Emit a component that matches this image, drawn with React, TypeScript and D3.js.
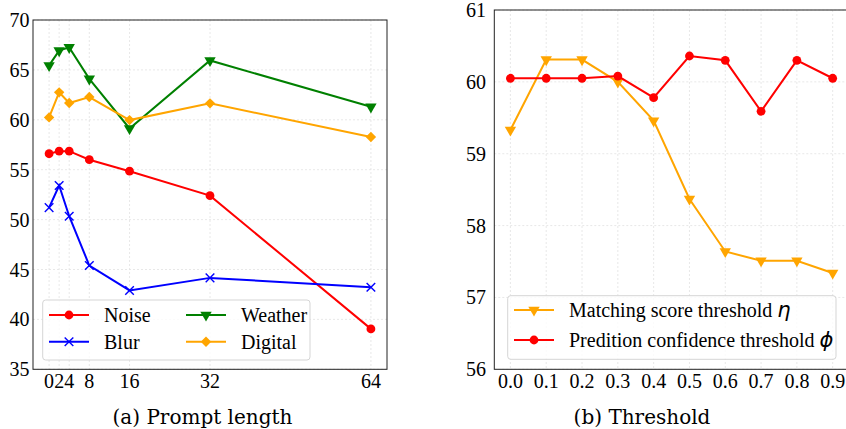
import React from 'react';
import * as d3 from 'd3';

// (a) prompt length
const promptLengths = [0, 2, 4, 8, 16, 32, 64];
const noise = [56.6, 56.86, 56.86, 56.0, 54.85, 52.4, 39.05];
const blur = [51.2, 53.42, 50.34, 45.4, 42.9, 44.16, 43.22];
const weather = [65.45, 66.93, 67.26, 64.1, 59.13, 65.95, 61.3];
const digital = [60.24, 62.75, 61.68, 62.28, 59.97, 61.65, 58.27];
const leftYTicks = [35, 40, 45, 50, 55, 60, 65, 70];

// (b) threshold
const thresholds = [0.0, 0.1, 0.2, 0.3, 0.4, 0.5, 0.6, 0.7, 0.8, 0.9];
const matching = [59.33, 60.31, 60.31, 60.0, 59.46, 58.37, 57.64, 57.51, 57.51, 57.34];
const confidence = [60.05, 60.05, 60.05, 60.08, 59.78, 60.36, 60.3, 59.59, 60.3, 60.05];
const rightYTicks = [56, 57, 58, 59, 60, 61];

const SERIF = '"Liberation Serif", "Times New Roman", serif';
const GRID = '#e2e2e2';

type MarkerKind = 'circle' | 'x' | 'tri' | 'diamond';

function Marker({ kind, x, y, color }: { kind: MarkerKind; x: number; y: number; color: string }) {
  if (kind === 'circle') return <circle cx={x} cy={y} r={4.4} fill={color} />;
  if (kind === 'x') {
    const s = 4.3;
    return (
      <g stroke={color} strokeWidth={1.4}>
        <line x1={x - s} y1={y - s} x2={x + s} y2={y + s} />
        <line x1={x - s} y1={y + s} x2={x + s} y2={y - s} />
      </g>
    );
  }
  if (kind === 'tri') {
    const p = d3.symbol().type(d3.symbolTriangle).size(56)();
    return <path d={p!} transform={`translate(${x},${y}) rotate(180)`} fill={color} />;
  }
  const p = d3.symbol().type(d3.symbolSquare).size(54)();
  return <path d={p!} transform={`translate(${x},${y}) rotate(45)`} fill={color} />;
}

function Series({ xs, ys, x, y, color, kind }: any) {
  const line = d3.line<number>().x((d, i) => x(xs[i])).y(d => y(d));
  return (
    <g>
      <path d={line(ys)!} fill="none" stroke={color} strokeWidth={2} />
      {ys.map((v: number, i: number) => (
        <Marker key={i} kind={kind} x={x(xs[i])} y={y(v)} color={color} />
      ))}
    </g>
  );
}

function LegendItem({ x, y, color, kind, children }: any) {
  return (
    <g>
      <line x1={x} x2={x + 40} y1={y} y2={y} stroke={color} strokeWidth={2} />
      <Marker kind={kind} x={x + 20} y={y} color={color} />
      <text x={x + 55} y={y} dy="0.35em" fontFamily={SERIF} fontSize={20}>
        {children}
      </text>
    </g>
  );
}

export default function App() {
  // left panel
  const lx = d3.scaleLinear().domain([-3.2, 67.2]).range([33, 387]);
  const ly = d3.scaleLinear().domain([35, 70]).range([369.3, 20]);
  // right panel
  const rx = d3.scaleLinear().domain([-0.045, 0.945]).range([494.3, 848.8]);
  const ry = d3.scaleLinear().domain([56, 61]).range([369.3, 10]);

  return (
    <div style={{ position: 'absolute', left: 0, top: 0 }}>
      <svg width={846} height={429} style={{ display: 'block', background: '#fff' }}>
        {/* ---- (a) ---- */}
        <g>
          {promptLengths.map(t => (
            <line key={t} x1={lx(t)} x2={lx(t)} y1={20} y2={369.3} stroke={GRID} strokeWidth={0.8} strokeDasharray="2,2" />
          ))}
          {leftYTicks.map(t => (
            <line key={t} x1={33} x2={387} y1={ly(t)} y2={ly(t)} stroke={GRID} strokeWidth={0.8} strokeDasharray="2,2" />
          ))}
          <Series xs={promptLengths} ys={noise} x={lx} y={ly} color="red" kind="circle" />
          <Series xs={promptLengths} ys={blur} x={lx} y={ly} color="blue" kind="x" />
          <Series xs={promptLengths} ys={weather} x={lx} y={ly} color="green" kind="tri" />
          <Series xs={promptLengths} ys={digital} x={lx} y={ly} color="orange" kind="diamond" />
          <rect x={33} y={20} width={354} height={349.3} fill="none" stroke="#222" strokeWidth={1} />
          {leftYTicks.map(t => (
            <text key={t} x={29.5} y={ly(t)} dy="0.35em" textAnchor="end" fontFamily={SERIF} fontSize={20}>
              {t}
            </text>
          ))}
          {promptLengths.map(t => (
            <text key={t} x={lx(t)} y={388} textAnchor="middle" fontFamily={SERIF} fontSize={20}>
              {t}
            </text>
          ))}
          <rect x={42.7} y={300} width={267.3} height={60} rx={3} fill="#fff" fillOpacity={0.8} stroke="#d5d5d5" />
          <LegendItem x={49} y={315} color="red" kind="circle">Noise</LegendItem>
          <LegendItem x={49} y={341.7} color="blue" kind="x">Blur</LegendItem>
          <LegendItem x={186} y={315} color="green" kind="tri">Weather</LegendItem>
          <LegendItem x={186} y={341.7} color="orange" kind="diamond">Digital</LegendItem>
          <text x={202.5} y={424} textAnchor="middle" fontFamily='"DejaVu Serif", serif' fontSize={20}>
            (a) Prompt length
          </text>
        </g>

        {/* ---- (b) ---- */}
        <g>
          {thresholds.map(t => (
            <line key={t} x1={rx(t)} x2={rx(t)} y1={10} y2={369.3} stroke={GRID} strokeWidth={0.8} strokeDasharray="2,2" />
          ))}
          {rightYTicks.map(t => (
            <line key={t} x1={494.3} x2={848.8} y1={ry(t)} y2={ry(t)} stroke={GRID} strokeWidth={0.8} strokeDasharray="2,2" />
          ))}
          <Series xs={thresholds} ys={matching} x={rx} y={ry} color="orange" kind="tri" />
          <Series xs={thresholds} ys={confidence} x={rx} y={ry} color="red" kind="circle" />
          <rect x={494.3} y={10} width={354.5} height={359.3} fill="none" stroke="#222" strokeWidth={1} />
          {rightYTicks.map(t => (
            <text key={t} x={486} y={ry(t)} dy="0.35em" textAnchor="end" fontFamily={SERIF} fontSize={20}>
              {t}
            </text>
          ))}
          {thresholds.map(t => (
            <text key={t} x={rx(t)} y={388} textAnchor="middle" fontFamily={SERIF} fontSize={20}>
              {t.toFixed(1)}
            </text>
          ))}
          <rect x={507.7} y={295.7} width={328.3} height={63.6} rx={3} fill="#fff" fillOpacity={0.8} stroke="#d5d5d5" />
          <LegendItem x={514} y={310} color="orange" kind="tri">
            Matching score threshold{' '}
            <tspan fontFamily='"DejaVu Sans", sans-serif' fontStyle="italic" fontSize={21}>η</tspan>
          </LegendItem>
          <LegendItem x={514} y={340} color="red" kind="circle">
            Predition confidence threshold{' '}
            <tspan fontFamily='"DejaVu Sans", sans-serif' fontStyle="italic" fontSize={21}>ϕ</tspan>
          </LegendItem>
          <text x={642} y={424} textAnchor="middle" fontFamily='"DejaVu Serif", serif' fontSize={20}>
            (b) Threshold
          </text>
        </g>
      </svg>
    </div>
  );
}
